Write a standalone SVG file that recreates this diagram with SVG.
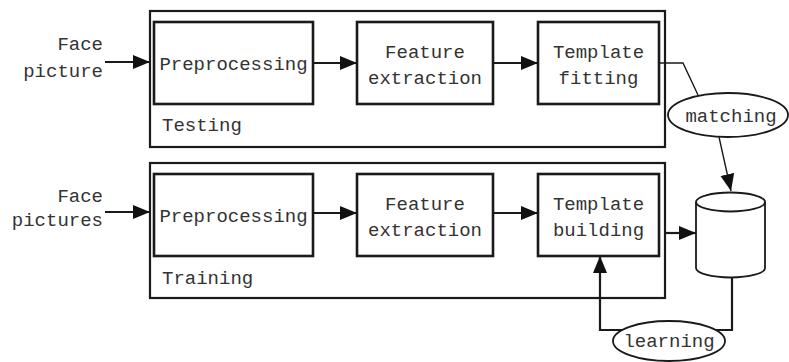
<svg xmlns="http://www.w3.org/2000/svg" width="789" height="362" viewBox="0 0 789 362">
  <style>
    .frame { fill: none; stroke: #1a1a1a; stroke-width: 2.2; }
    .box { fill: #fff; stroke: #1a1a1a; stroke-width: 2.6; }
    .shape { fill: #fff; stroke: #1a1a1a; stroke-width: 1.8; }
    .lbl { font-family: "Liberation Mono", "Courier New", monospace; font-size: 19px; fill: #333; }
    .mid { text-anchor: middle; }
    .end { text-anchor: end; }
    .wire { fill: none; stroke: #1a1a1a; stroke-width: 2.2; }
    .thin { fill: none; stroke: #1a1a1a; stroke-width: 1.4; }
  </style>
  <defs>
    <marker id="arrow" markerUnits="userSpaceOnUse" markerWidth="18" markerHeight="16" refX="17" refY="7" orient="auto">
      <path d="M0,0 L17,7 L0,14 Z" fill="#111"/>
    </marker>
  </defs>
  <rect width="789" height="362" fill="#fff"/>

  <!-- stage frames -->
  <g id="testing">
    <rect class="frame" x="150" y="11" width="515" height="136"/>
    <text class="lbl" x="162" y="131">Testing</text>
  </g>
  <g id="training">
    <rect class="frame" x="150" y="163" width="515" height="135"/>
    <text class="lbl" x="162" y="284">Training</text>
  </g>

  <!-- inputs -->
  <g id="face-picture">
    <text class="lbl end" x="103" y="50">Face</text>
    <text class="lbl end" x="103" y="77">picture</text>
  </g>
  <g id="face-pictures">
    <text class="lbl end" x="103" y="202">Face</text>
    <text class="lbl end" x="103" y="226">pictures</text>
  </g>

  <!-- testing pipeline -->
  <g id="preprocessing-test">
    <rect class="box" x="154" y="22" width="159" height="82"/>
    <text class="lbl mid" x="233.5" y="70">Preprocessing</text>
  </g>
  <g id="feature-test">
    <rect class="box" x="357" y="22" width="136" height="82"/>
    <text class="lbl mid" x="425" y="58">Feature</text>
    <text class="lbl mid" x="425" y="84">extraction</text>
  </g>
  <g id="template-fitting">
    <rect class="box" x="538" y="22" width="121" height="82"/>
    <text class="lbl mid" x="598.5" y="58">Template</text>
    <text class="lbl mid" x="598.5" y="84">fitting</text>
  </g>

  <!-- training pipeline -->
  <g id="preprocessing-train">
    <rect class="box" x="154" y="174" width="159" height="82"/>
    <text class="lbl mid" x="233.5" y="222">Preprocessing</text>
  </g>
  <g id="feature-train">
    <rect class="box" x="357" y="174" width="136" height="82"/>
    <text class="lbl mid" x="425" y="210">Feature</text>
    <text class="lbl mid" x="425" y="236">extraction</text>
  </g>
  <g id="template-building">
    <rect class="box" x="538" y="174" width="121" height="82"/>
    <text class="lbl mid" x="598.5" y="210">Template</text>
    <text class="lbl mid" x="598.5" y="236">building</text>
  </g>

  <!-- template database -->
  <g id="database">
    <path class="shape" d="M696,202 L696,268 A34.5,9.5 0 0 0 765,268 L765,202"/>
    <ellipse class="shape" cx="730.5" cy="202" rx="34.5" ry="9.5"/>
  </g>

  <!-- connectors -->
  <g id="connectors">
    <line class="wire" x1="105" y1="62" x2="150" y2="62" marker-end="url(#arrow)"/>
    <line class="wire" x1="313" y1="63" x2="357" y2="63" marker-end="url(#arrow)"/>
    <line class="wire" x1="493" y1="63" x2="538" y2="63" marker-end="url(#arrow)"/>
    <line class="wire" x1="105" y1="212" x2="150" y2="212" marker-end="url(#arrow)"/>
    <line class="wire" x1="313" y1="213" x2="357" y2="213" marker-end="url(#arrow)"/>
    <line class="wire" x1="493" y1="213" x2="538" y2="213" marker-end="url(#arrow)"/>
    <line class="wire" x1="665" y1="233" x2="696" y2="233" marker-end="url(#arrow)"/>
    <polyline class="thin" points="659,63 683,63 698,95"/>
    <line class="thin" x1="719" y1="137" x2="731" y2="191" marker-end="url(#arrow)"/>
    <polyline class="wire" points="732,277 732,330 600,330 600,256" marker-end="url(#arrow)"/>
  </g>

  <!-- edge labels -->
  <g id="matching">
    <ellipse class="shape" cx="728" cy="115" rx="60" ry="22"/>
    <text class="lbl mid" x="731" y="122">matching</text>
  </g>
  <g id="learning">
    <ellipse class="shape" cx="669" cy="341" rx="56" ry="20"/>
    <text class="lbl mid" x="669" y="347">learning</text>
  </g>
</svg>
